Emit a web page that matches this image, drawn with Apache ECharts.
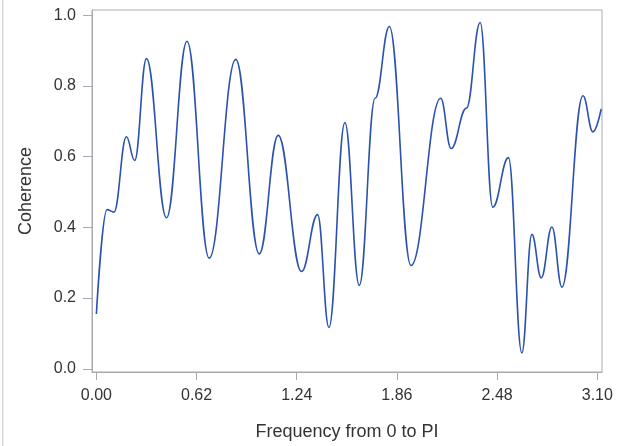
<!DOCTYPE html>
<html>
<head>
<meta charset="utf-8">
<script src="https://cdn.jsdelivr.net/npm/echarts@6/dist/echarts.min.js"></script>
<style>
html,body{margin:0;padding:0;background:#fff;}
#chart{width:617px;height:446px;}
</style>
</head>
<body>
<div id="chart"></div>
<script>
var freq = [0.000, 0.066, 0.109, 0.186, 0.237, 0.310, 0.434, 0.561, 0.698, 0.863, 1.008, 1.125, 1.270, 1.369, 1.439, 1.538, 1.627, 1.725, 1.813, 1.947, 2.131, 2.195, 2.290, 2.375, 2.453, 2.550, 2.633, 2.695, 2.753, 2.819, 2.881, 3.011, 3.073, 3.124];
var coherence = [0.155, 0.450, 0.443, 0.656, 0.589, 0.877, 0.427, 0.926, 0.313, 0.875, 0.325, 0.660, 0.275, 0.436, 0.117, 0.696, 0.236, 0.765, 0.968, 0.292, 0.765, 0.623, 0.737, 0.979, 0.457, 0.597, 0.045, 0.380, 0.257, 0.401, 0.231, 0.772, 0.670, 0.735];
var xTicks = [0.00, 0.62, 1.24, 1.86, 2.48, 3.10];
var yTicks = [0.0, 0.2, 0.4, 0.6, 0.8, 1.0];

var points = freq.map(function (f, i) { return [f, coherence[i]]; });
var chart = echarts.init(document.getElementById('chart'), null, {renderer: 'canvas'});
var axisColor = '#a7abaf';
var font = '"Liberation Sans", Arial, sans-serif';
chart.setOption({
  animation: false,
  backgroundColor: '#fff',
  graphic: [{type: 'rect', shape: {x: 2, y: 0, width: 1.5, height: 446}, style: {fill: '#d9d9d9'}}],
  grid: {left: 92, top: 10, right: 15, bottom: 70, show: true, borderColor: axisColor, borderWidth: 1, backgroundColor: 'transparent'},
  xAxis: {
    type: 'value', min: -0.027, max: 3.129,
    name: 'Frequency from 0 to PI', nameLocation: 'middle', nameGap: 51,
    nameTextStyle: {fontFamily: font, fontSize: 18, color: '#333'},
    axisLine: {show: true, onZero: false, lineStyle: {color: axisColor}},
    axisTick: {show: true, length: 8, customValues: xTicks, lineStyle: {color: axisColor}},
    axisLabel: {customValues: xTicks, margin: 16, fontFamily: font, fontSize: 16, color: '#333', formatter: function (v) { return v.toFixed(2); }},
    splitLine: {show: false}
  },
  yAxis: {
    type: 'value', min: -0.009, max: 1.0145,
    name: 'Coherence', nameLocation: 'middle', nameGap: 57,
    nameTextStyle: {fontFamily: font, fontSize: 18, color: '#333'},
    axisLine: {show: true, onZero: false, lineStyle: {color: axisColor}},
    axisTick: {show: true, length: 9, customValues: yTicks, lineStyle: {color: axisColor}},
    axisLabel: {customValues: yTicks, margin: 16, fontFamily: font, fontSize: 16, color: '#333', formatter: function (v) { return v.toFixed(1); }},
    splitLine: {show: false}
  },
  series: [{
    type: 'line', data: points, smooth: 0.42, smoothMonotone: 'x', showSymbol: false,
    lineStyle: {color: '#2a52ae', width: 1.6}
  }]
});
</script>
</body>
</html>
